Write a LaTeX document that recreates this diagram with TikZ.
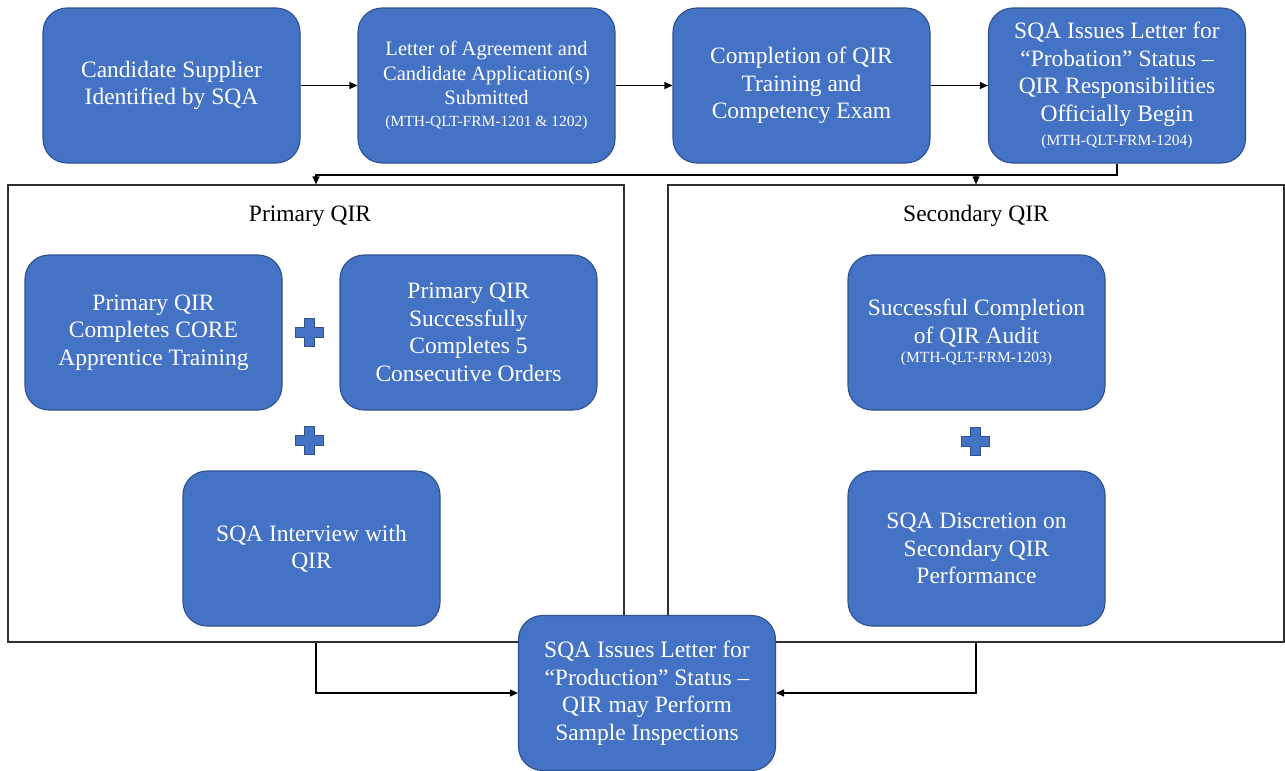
\documentclass[tikz,border=0pt]{standalone}
\usepackage{fontspec}
\setmainfont{Liberation Serif}
\usetikzlibrary{arrows.meta}
\definecolor{boxblue}{HTML}{4472C4}
\definecolor{boxedge}{HTML}{2F528F}
\definecolor{linegray}{HTML}{303030}
\tikzset{
  bbox/.style={rectangle, rounded corners=24pt, fill=boxblue, draw=boxedge, line width=1.1pt, text=white, minimum width=257pt, minimum height=155pt, align=center, inner sep=0pt, font=\fontsize{23.5}{27.5}\selectfont},
  qirframe/.style={rectangle, draw=linegray, line width=1.2pt, minimum width=616pt, minimum height=457pt, inner sep=0pt},
  frametitle/.style={text=black, inner sep=0pt, font=\fontsize{23.5}{27.5}\selectfont},
  conn/.style={draw=black, line width=1.2pt, -{Triangle[length=8pt,width=7pt]}},
  plussign/.pic={\path[fill=boxblue,draw=boxedge,line width=0.9pt] (-5,-14) -- (5,-14) -- (5,-5) -- (14,-5) -- (14,5) -- (5,5) -- (5,14) -- (-5,14) -- (-5,5) -- (-14,5) -- (-14,-5) -- (-5,-5) -- cycle;}
}
\begin{document}
\begin{tikzpicture}[x=1pt,y=-1pt]
\useasboundingbox (0,0) rectangle (1285,771);
\fill[white] (0,0) rectangle (1285,771);
% top row
\node[bbox] (b1) at (171.5,85.5) {Candidate Supplier\\Identified by SQA};
\node[bbox, font=\fontsize{20.5}{24.5}\selectfont] (b2) at (486.5,85.5) {Letter of Agreement and\\Candidate Application(s)\\Submitted\\[-2.5pt]{\fontsize{15.5}{18}\selectfont (MTH-QLT-FRM-1201 \& 1202)}};
\node[bbox] (b3) at (801.5,85.5) {Completion of QIR\\Training and\\Competency Exam};
\node[bbox] (b4) at (1117,85.5) {SQA Issues Letter for\\“Probation” Status –\\QIR Responsibilities\\Officially Begin\\[-3.5pt]{\fontsize{15.5}{18}\selectfont (MTH-QLT-FRM-1204)}};
% frames
\node[qirframe] (lf) at (316,413.5) {};
\node[qirframe] (rf) at (976,413.5) {};
\node[frametitle] (lt) at (310,216) {Primary QIR};
\node[frametitle] (rt) at (976,216) {Secondary QIR};
% primary
\node[bbox] (pa) at (153.5,332.5) {Primary QIR\\Completes CORE\\Apprentice Training};
\node[bbox] (pb) at (468.5,332.5) {Primary QIR\\Successfully\\Completes 5\\Consecutive Orders};
\node[bbox] (pc) at (311.5,548.5) {SQA Interview with\\QIR};
\pic (plusa) at (309,332) {plussign};
\pic (plusb) at (309,440) {plussign};
% secondary
\node[bbox] (sa) at (976.5,332.5) {Successful Completion\\of QIR Audit\\[-8pt]{\fontsize{15.5}{18}\selectfont (MTH-QLT-FRM-1203)}};
\node[bbox] (sb) at (976.5,548.5) {SQA Discretion on\\Secondary QIR\\Performance};
\pic (plusc) at (975,441) {plussign};
% final
\node[bbox] (bf) at (647,693) {SQA Issues Letter for\\“Production” Status –\\QIR may Perform\\Sample Inspections};
% connectors
\draw[conn] (b1) -- (b2);
\draw[conn] (b2) -- (b3);
\draw[conn] (b3) -- (b4);
\coordinate (j) at (1117,175);
\draw[conn] (b4.south) -- (j) -| (lf.north);
\draw[conn] (j -| rf.north) -- (rf.north);
\draw[conn] (lf.south) |- (bf.west);
\draw[conn] (rf.south) |- (bf.east);
\end{tikzpicture}
\end{document}
